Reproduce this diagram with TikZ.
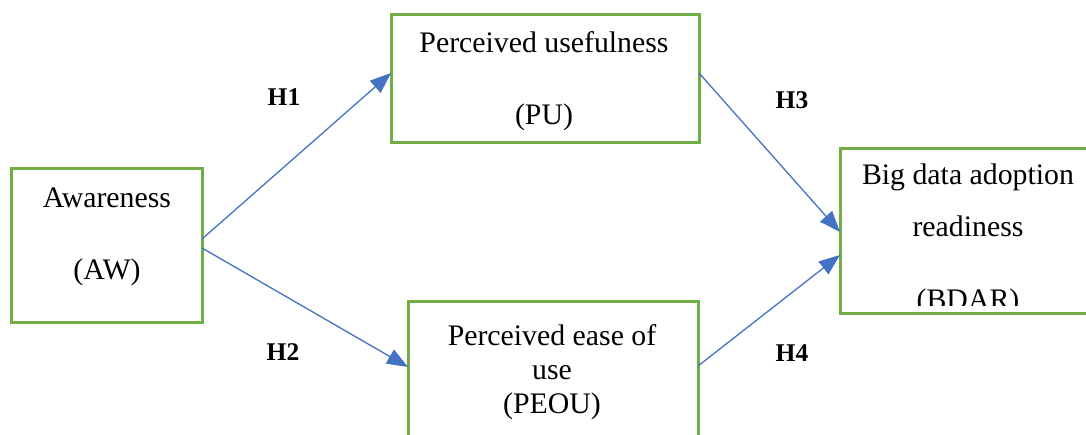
\documentclass[tikz,border=0pt]{standalone}
\usepackage{fontspec}
\setmainfont{Liberation Serif}
\usepackage{tikz}
\usetikzlibrary{positioning, arrows.meta}
\definecolor{boxgreen}{HTML}{70AD47}
\definecolor{arrowblue}{HTML}{4472C4}
\tikzset{
box/.style={draw=boxgreen, line width=3pt, inner sep=0pt, outer sep=0pt}, % green frames
boxtext/.style={align=center, font=\fontsize{29.8}{34}\selectfont}, % text inside the frames
hyp/.style={font=\fontsize{25.5}{30}\selectfont\bfseries}, % hypothesis labels
link/.style={draw=arrowblue, line width=1.3pt, -{Triangle[length=21pt,width=16pt]}}, % paths between constructs
}

\begin{document}
\begin{tikzpicture}[x=1pt, y=-1pt]
  \useasboundingbox (0,0) rectangle (1086,434);
  \clip (0,0) rectangle (1086,434);

  % Boxes
  \node[box, minimum width=191pt, minimum height=154pt] (aw) at (106.5,245) {};
  \node[box, minimum width=308pt, minimum height=128pt] (pu) at (545,78) {};
  \node[box, minimum width=290pt, minimum height=139pt] (peou) at (553,370.5) {};
  \node[box, minimum width=256pt, minimum height=165pt] (bdar) at (968,230.5) {};

  % Texts
  \node[boxtext] (awtxt) at (107,237) {Awareness\\[38pt](AW)};
  \node[boxtext] (putxt) at (544,81) {Perceived usefulness\\[38pt](PU)};
  \node[boxtext] (peoutxt) at (552,372) {Perceived ease of\\use\\(PEOU)};
  \begin{scope}
    \clip (840,148) rectangle (1096,305);
    \node[boxtext] (bdartxt) at (968,240) {Big data adoption\\[18pt]readiness\\[39pt](BDAR)};
  \end{scope}

  % Paths
  \path[link] ([yshift=6pt]aw.east) -- ([yshift=5pt]pu.west);
  \path[link] ([yshift=-3pt]aw.east) -- ([yshift=3.5pt]peou.west);
  \path[link] ([yshift=5pt]pu.east) -- ([yshift=-1.5pt]bdar.west);
  \path[link] ([yshift=4.5pt]peou.east) -- ([yshift=-24.5pt]bdar.west);

  % Labels
  \node[hyp] (h1) at (284,97) {H1};
  \node[hyp] (h2) at (283,352) {H2};
  \node[hyp] (h3) at (792,100) {H3};
  \node[hyp] (h4) at (792,353) {H4};
\end{tikzpicture}
\end{document}
